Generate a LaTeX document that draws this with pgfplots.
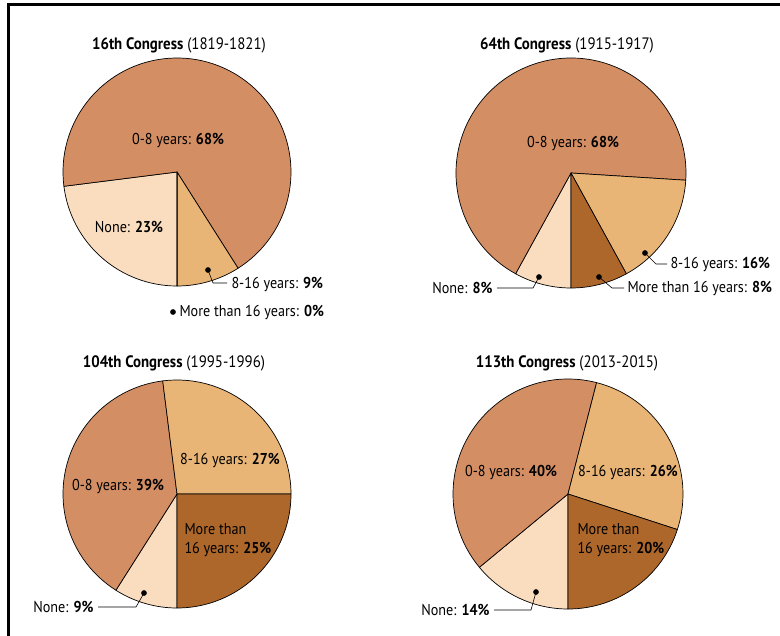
\documentclass[border=0pt]{standalone}
\usepackage{fontspec}
\setmainfont[FakeStretch=0.9]{PT Sans}
\usepackage{pgfplots}
\usepackage{pgfplotstable}
\pgfplotsset{compat=1.18}

\definecolor{cnone}{RGB}{250,220,190}
\definecolor{cyoung}{RGB}{212,142,99}
\definecolor{cmid}{RGB}{233,181,118}
\definecolor{cold}{RGB}{173,103,43}

% share of members by years of prior service; rows: None, 0-8, 8-16, >16
\pgfplotstableread{
group value
none  23
young 68
mid   9
old   0
}\congXVI
\pgfplotstableread{
group value
none  8
young 68
mid   16
old   8
}\congLXIV
\pgfplotstableread{
group value
none  9
young 39
mid   27
old   25
}\congCIV
\pgfplotstableread{
group value
none  14
young 40
mid   26
old   20
}\congCXIII

% slices run clockwise from 6 o'clock
\newcommand{\pieslices}[4]{%
  \xdef\curang{270}%
  \foreach \i/\col in {0/cnone,1/cyoung,2/cmid,3/cold}{%
    \pgfplotstablegetelem{\i}{value}\of{#1}%
    \pgfmathsetmacro\nextang{\curang-3.6*\pgfplotsretval}%
    \filldraw[fill=\col, draw=black, line width=0.7pt, line join=round]
      (axis cs:#2,#3) -- ++(\curang:#4)
      arc[start angle=\curang, end angle=\nextang, radius=#4] -- cycle;
    \xdef\curang{\nextang}%
  }%
}

\newcommand{\lab}{\fontsize{15.8}{18.5}\selectfont}
\newcommand{\ttl}{\fontsize{16.6}{19}\selectfont}

\begin{document}
\begin{tikzpicture}
\useasboundingbox (0,0) rectangle (780bp,636bp);
\begin{axis}[
    at={(0,0)}, anchor=south west,
    scale only axis, width=780bp, height=636bp,
    xmin=0, xmax=780, ymin=0, ymax=636,
    y dir=reverse,
    hide axis, clip=false,
]
\pgfplotsextra{%
  \pieslices{\congXVI}{177}{172}{114bp}%
  \pieslices{\congLXIV}{571}{173}{115bp}%
  \pieslices{\congCIV}{177}{494}{114bp}%
  \pieslices{\congCXIII}{568}{494}{115bp}%
}

% leader lines
\addplot[black, line width=0.6pt] coordinates {(208,270) (213,283) (227,283)};
\addplot[black, line width=0.6pt] coordinates {(539,277) (533,288) (497,288)};
\addplot[black, line width=0.6pt] coordinates {(599,277) (612,288) (624,288)};
\addplot[black, line width=0.6pt] coordinates {(645,253) (656,264) (667,264)};
\addplot[black, line width=0.6pt] coordinates {(144,593) (136,607) (98,607)};
\addplot[black, line width=0.6pt] coordinates {(536,592) (531,610) (494,610)};
\addplot[only marks, mark=*, mark size=2.6pt, black] coordinates {
  (208,270) (173,312) (539,277) (599,277) (645,253) (144,593) (536,592)};

% titles
\node[font=\ttl] at (axis cs:179,45) {\textbf{16th Congress} (1819-1821)};
\node[font=\ttl] at (axis cs:567,45) {\textbf{64th Congress} (1915-1917)};
\node[font=\ttl] at (axis cs:174,363) {\textbf{104th Congress} (1995-1996)};
\node[font=\ttl] at (axis cs:567,363) {\textbf{113th Congress} (2013-2015)};

% 16th
\node[font=\lab] at (axis cs:178,140) {0-8 years: \textbf{68\%}};
\node[font=\lab] at (axis cs:129,227) {None: \textbf{23\%}};
\node[font=\lab, anchor=west] at (axis cs:228,284) {8-16 years: \textbf{9\%}};
\node[font=\lab, anchor=west] at (axis cs:176,312) {More than 16 years: \textbf{0\%}};

% 64th
\node[font=\lab] at (axis cs:573,143) {0-8 years: \textbf{68\%}};
\node[font=\lab, anchor=east] at (axis cs:496,288) {None: \textbf{8\%}};
\node[font=\lab, anchor=west] at (axis cs:624,288) {More than 16 years: \textbf{8\%}};
\node[font=\lab, anchor=west] at (axis cs:667,264) {8-16 years: \textbf{16\%}};

% 104th
\node[font=\lab] at (axis cs:230,460) {8-16 years: \textbf{27\%}};
\node[font=\lab] at (axis cs:118,486) {0-8 years: \textbf{39\%}};
\node[font=\lab, anchor=west, align=left] at (axis cs:181,540) {More than\\16 years: \textbf{25\%}};
\node[font=\lab, anchor=east] at (axis cs:97,607) {None: \textbf{9\%}};

% 113th
\node[font=\lab] at (axis cs:511,472) {0-8 years: \textbf{40\%}};
\node[font=\lab] at (axis cs:628,472) {8-16 years: \textbf{26\%}};
\node[font=\lab, anchor=west, align=left] at (axis cs:574,540) {More than\\16 years: \textbf{20\%}};
\node[font=\lab, anchor=east] at (axis cs:493,610) {None: \textbf{14\%}};
\end{axis}
% frame on top and left
\draw[line width=2.6bp] (8.5bp,0) -- (8.5bp,631.7bp) -- (780bp,631.7bp);
\end{tikzpicture}
\end{document}
